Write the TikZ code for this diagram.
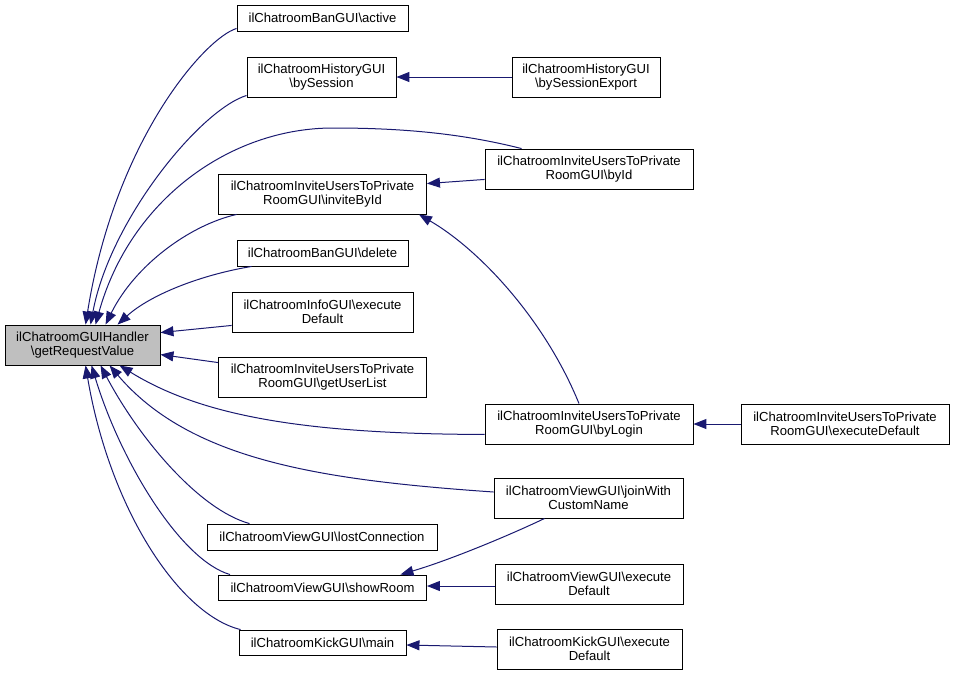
\documentclass[tikz,border=0pt]{standalone}
\usepackage{fontspec}
\setmainfont{Liberation Sans}
\usetikzlibrary{arrows.meta,calc}
\definecolor{edgec}{HTML}{191970}
\definecolor{rootc}{HTML}{BFBFBF}
\begin{document}
\begin{tikzpicture}[x=1pt,y=-1pt,
  fn/.style={draw=black, line width=0.9pt, fill=white, align=center, inner sep=0pt,
             font=\fontsize{13.1}{14.5}\selectfont},
  one/.style={fn, minimum height=26},
  two/.style={fn, minimum height=40},
  edge/.style={draw=edgec, line width=1pt, -{Triangle[length=13pt,width=10pt]}}]
\useasboundingbox (0,0) rectangle (955,675);
% nodes
\node[two, fill=rootc, minimum width=155] (root) at (82.5,345) {ilChatroomGUIHandler\\\textbackslash getRequestValue};
\node[one, minimum width=171] (active) at (322.5,18) {ilChatroomBanGUI\textbackslash active};
\node[two, minimum width=149] (bySession) at (321.5,77) {ilChatroomHistoryGUI\\\textbackslash bySession};
\node[two, minimum width=208] (inviteById) at (322.5,194) {ilChatroomInviteUsersToPrivate\\RoomGUI\textbackslash inviteById};
\node[one, minimum width=171] (delete) at (322.5,253) {ilChatroomBanGUI\textbackslash delete};
\node[two, minimum width=181] (info) at (322.5,312) {ilChatroomInfoGUI\textbackslash execute\\Default};
\node[two, minimum width=208] (userlist) at (322.5,377) {ilChatroomInviteUsersToPrivate\\RoomGUI\textbackslash getUserList};
\node[one, minimum width=230] (lost) at (322,537) {ilChatroomViewGUI\textbackslash lostConnection};
\node[one, minimum width=208, minimum height=25] (showRoom) at (322.5,587.5) {ilChatroomViewGUI\textbackslash showRoom};
\node[one, minimum width=167, minimum height=25] (main) at (322.5,642.5) {ilChatroomKickGUI\textbackslash main};
\node[two, minimum width=148] (export) at (586,77) {ilChatroomHistoryGUI\\\textbackslash bySessionExport};
\node[two, minimum width=208] (byId) at (589,169) {ilChatroomInviteUsersToPrivate\\RoomGUI\textbackslash byId};
\node[two, minimum width=208] (byLogin) at (589,424) {ilChatroomInviteUsersToPrivate\\RoomGUI\textbackslash byLogin};
\node[two, minimum width=208] (invExec) at (845,424) {ilChatroomInviteUsersToPrivate\\RoomGUI\textbackslash executeDefault};
\node[two, minimum width=189] (join) at (588.5,498) {ilChatroomViewGUI\textbackslash joinWith\\CustomName};
\node[two, minimum width=188] (viewExec) at (589,584) {ilChatroomViewGUI\textbackslash execute\\Default};
\node[two, minimum width=185] (kickExec) at (589.5,649) {ilChatroomKickGUI\textbackslash execute\\Default};
% edges into root (top)
\draw[edge] ($(active.south west)+(0,-3)$) .. controls (205,38) and (115,140) .. ($(root.north west)+(81,0)$);
\draw[edge] ($(bySession.south west)+(0,-2)$) .. controls (200,110) and (110,220) .. ($(root.north west)+(86,0)$);
\draw[edge] ($(byId.north west)+(37,0)$) .. controls (460,133) and (400,128) .. (333,128)
   .. controls (230,128) and (130,200) .. ($(root.north west)+(91,0)$);
\draw[edge] ($(inviteById.south west)+(18.5,0)$) .. controls (190,225) and (135,265) .. ($(root.north west)+(101,0)$);
\draw[edge] ($(delete.south west)+(15,0)$) .. controls (200,275) and (150,295) .. ($(root.north west)+(113,0)$);
% edges into root (side)
\draw[edge] ($(info.south west)+(0,-7)$) -- ($(root.north east)+(0,8)$);
\draw[edge] ($(userlist.north west)+(0,6)$) -- ($(root.north east)+(0,30)$);
% edges into root (bottom)
\draw[edge] ($(byLogin.south west)+(0,-10)$) .. controls (300,434) and (200,415) .. ($(root.south west)+(115,0)$);
\draw[edge] ($(join.west)+(0,-6)$) .. controls (320,480) and (190,460) .. ($(root.south west)+(105,0)$);
\draw[edge] ($(lost.north west)+(43,0)$) .. controls (200,510) and (140,440) .. ($(root.south west)+(96,0)$);
\draw[edge] ($(showRoom.north west)+(12,0)$) .. controls (180,560) and (120,460) .. ($(root.south west)+(87,0)$);
\draw[edge] ($(main.north west)+(2,0)$) .. controls (180,615) and (110,510) .. ($(root.south west)+(81,0)$);
% other edges
\draw[edge] (export.west) -- (bySession.east);
\draw[edge] ($(byId.south west)+(0,-10)$) -- ($(inviteById.north east)+(0,10)$);
\draw[edge] ($(byLogin.north)+(-10,0)$) .. controls (545,320) and (480,250) .. ($(inviteById.south east)+(-8,0)$);
\draw[edge] (invExec.west) -- (byLogin.east);
\draw[edge] ($(join.south west)+(51,0)$) .. controls (510,535) and (450,560) .. ($(showRoom.north east)+(-26.5,0)$);
\draw[edge] ($(viewExec.west)+(0,2)$) -- ($(showRoom.east)+(0,-1.5)$);
\draw[edge] ($(kickExec.west)+(0,-2)$) -- ($(main.east)+(0,2.5)$);
\end{tikzpicture}
\end{document}
